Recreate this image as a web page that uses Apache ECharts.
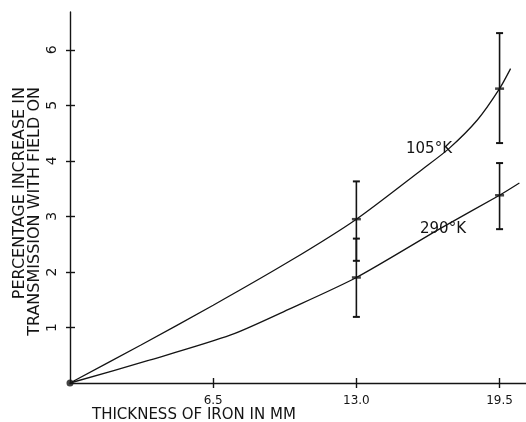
<!DOCTYPE html>
<html><head><meta charset="utf-8">
<script src="https://cdn.jsdelivr.net/npm/echarts@6/dist/echarts.min.js"></script>
<style>html,body{margin:0;padding:0;background:#fff}#c{width:526px;height:422px}</style>
</head><body><div id="c"></div>
<script>
// ---- data ----
const xTicks = [6.5, 13, 19.5];
const xTickLabels = ['6.5', '13.0', '19.5'];
const yTicks = [1, 2, 3, 4, 5, 6];
const yTickLabels = ['1', '2', '3', '4', '5', '6'];

const x105 = [0, 3.2, 6.5, 10, 13, 16, 17.2, 18.5, 19.5, 20];
const y105 = [0, 0.68, 1.4, 2.2, 2.95, 3.85, 4.22, 4.74, 5.3, 5.66];
const x290 = [0, 3.6, 7.3, 10, 13, 16.8, 19.5, 20.4];
const y290 = [0, 0.41, 0.865, 1.34, 1.9, 2.78, 3.38, 3.6];

const errX = [13, 19.5];
const mid105 = [2.95, 5.3];
const low105 = [2.2, 4.32];
const high105 = [3.63, 6.3];
const mid290 = [1.9, 3.38];
const low290 = [1.19, 2.77];
const high290 = [2.6, 3.96];

const curveNames = ['105°K', '290°K'];
const yTitle = 'PERCENTAGE INCREASE IN\nTRANSMISSION WITH FIELD ON';
const xTitle = 'THICKNESS OF IRON IN MM';

// ---- chart ----
const INK = '#141414';
const zip = (a, b) => a.map((v, i) => [v, b[i]]);
const errData = errX.map((x, i) => [x, low105[i], high105[i]])
  .concat(errX.map((x, i) => [x, low290[i], high290[i]]));
const midData = zip(errX, mid105).concat(zip(errX, mid290));

const chart = echarts.init(document.getElementById('c'), null, {renderer: 'canvas'});
const fmtX = v => { const i = xTicks.indexOf(v); return i >= 0 ? xTickLabels[i] : ''; };
const fmtY = v => { const i = yTicks.indexOf(v); return i >= 0 ? yTickLabels[i] : ''; };

chart.setOption({
  backgroundColor: '#fff',
  animation: false,
  grid: {left: 70, right: 0, top: 12, bottom: 39, containLabel: false},
  xAxis: [{
    type: 'value', min: 0, max: 20.7,
    axisLine: {lineStyle: {color: INK, width: 1.4}},
    axisTick: {show: true, length: 5, inside: false, customValues: xTicks, lineStyle: {color: INK, width: 1.4}},
    axisLabel: {customValues: xTicks, formatter: fmtX, color: INK, fontFamily: 'DejaVu Sans', fontSize: 12, margin: 12},
    splitLine: {show: false}
  }, {
    type: 'value', min: 0, max: 20.7, position: 'bottom',
    axisLine: {show: false},
    axisTick: {show: true, length: 5, inside: true, customValues: xTicks, lineStyle: {color: INK, width: 1.4}},
    axisLabel: {show: false},
    splitLine: {show: false}
  }],
  yAxis: [{
    type: 'value', min: 0, max: 6.68,
    axisLine: {show: true, lineStyle: {color: INK, width: 1.4}},
    axisTick: {show: true, length: 4, inside: false, customValues: yTicks, lineStyle: {color: INK, width: 1.4}},
    axisLabel: {customValues: yTicks, formatter: fmtY, rotate: 90, color: INK, fontFamily: 'DejaVu Sans', fontSize: 14, margin: 11},
    splitLine: {show: false}
  }, {
    type: 'value', min: 0, max: 6.68, position: 'left',
    axisLine: {show: false},
    axisTick: {show: true, length: 5, inside: true, customValues: yTicks, lineStyle: {color: INK, width: 1.4}},
    axisLabel: {show: false},
    splitLine: {show: false}
  }],
  series: [{
    name: curveNames[0], type: 'line', data: zip(x105, y105), smooth: 0.25,
    showSymbol: false, lineStyle: {color: INK, width: 1.3}
  }, {
    name: curveNames[1], type: 'line', data: zip(x290, y290), smooth: 0.25,
    showSymbol: false, lineStyle: {color: INK, width: 1.3}
  }, {
    type: 'custom', data: errData,
    renderItem: (params, api) => {
      const x = api.value(0);
      const lo = api.coord([x, api.value(1)]);
      const hi = api.coord([x, api.value(2)]);
      const cw = 3.5;
      const st = {stroke: INK, lineWidth: 1.6};
      return {type: 'group', children: [
        {type: 'line', shape: {x1: lo[0], y1: lo[1], x2: hi[0], y2: hi[1]}, style: st},
        {type: 'line', shape: {x1: lo[0] - cw, y1: lo[1], x2: lo[0] + cw, y2: lo[1]}, style: {stroke: INK, lineWidth: 2}},
        {type: 'line', shape: {x1: hi[0] - cw, y1: hi[1], x2: hi[0] + cw, y2: hi[1]}, style: {stroke: INK, lineWidth: 2}}
      ]};
    }
  }, {
    type: 'scatter', data: midData, symbol: 'rect', symbolSize: [9, 2.5],
    itemStyle: {color: INK}
  }, {
    type: 'scatter', data: [[0, 0]], symbol: 'circle', symbolSize: 7,
    itemStyle: {color: INK}, clip: false
  }],
  graphic: [{
    type: 'text', x: 27, y: 87, rotation: Math.PI / 2,
    style: {text: yTitle, font: '16px "DejaVu Sans"', textAlign: 'right', textVerticalAlign: 'middle',
      align: 'right', verticalAlign: 'middle', lineHeight: 15, fill: INK}
  }, {
    type: 'text', x: 92, y: 415,
    style: {text: xTitle, font: '15px "DejaVu Sans"', textAlign: 'left', textVerticalAlign: 'middle',
      align: 'left', verticalAlign: 'middle', fill: INK}
  }, {
    type: 'text', x: 406, y: 149,
    style: {text: curveNames[0], font: '15px "DejaVu Sans"', textAlign: 'left', textVerticalAlign: 'middle',
      align: 'left', verticalAlign: 'middle', fill: INK}
  }, {
    type: 'text', x: 420, y: 229,
    style: {text: curveNames[1], font: '15px "DejaVu Sans"', textAlign: 'left', textVerticalAlign: 'middle',
      align: 'left', verticalAlign: 'middle', fill: INK}
  }]
});
</script>
</body></html>
